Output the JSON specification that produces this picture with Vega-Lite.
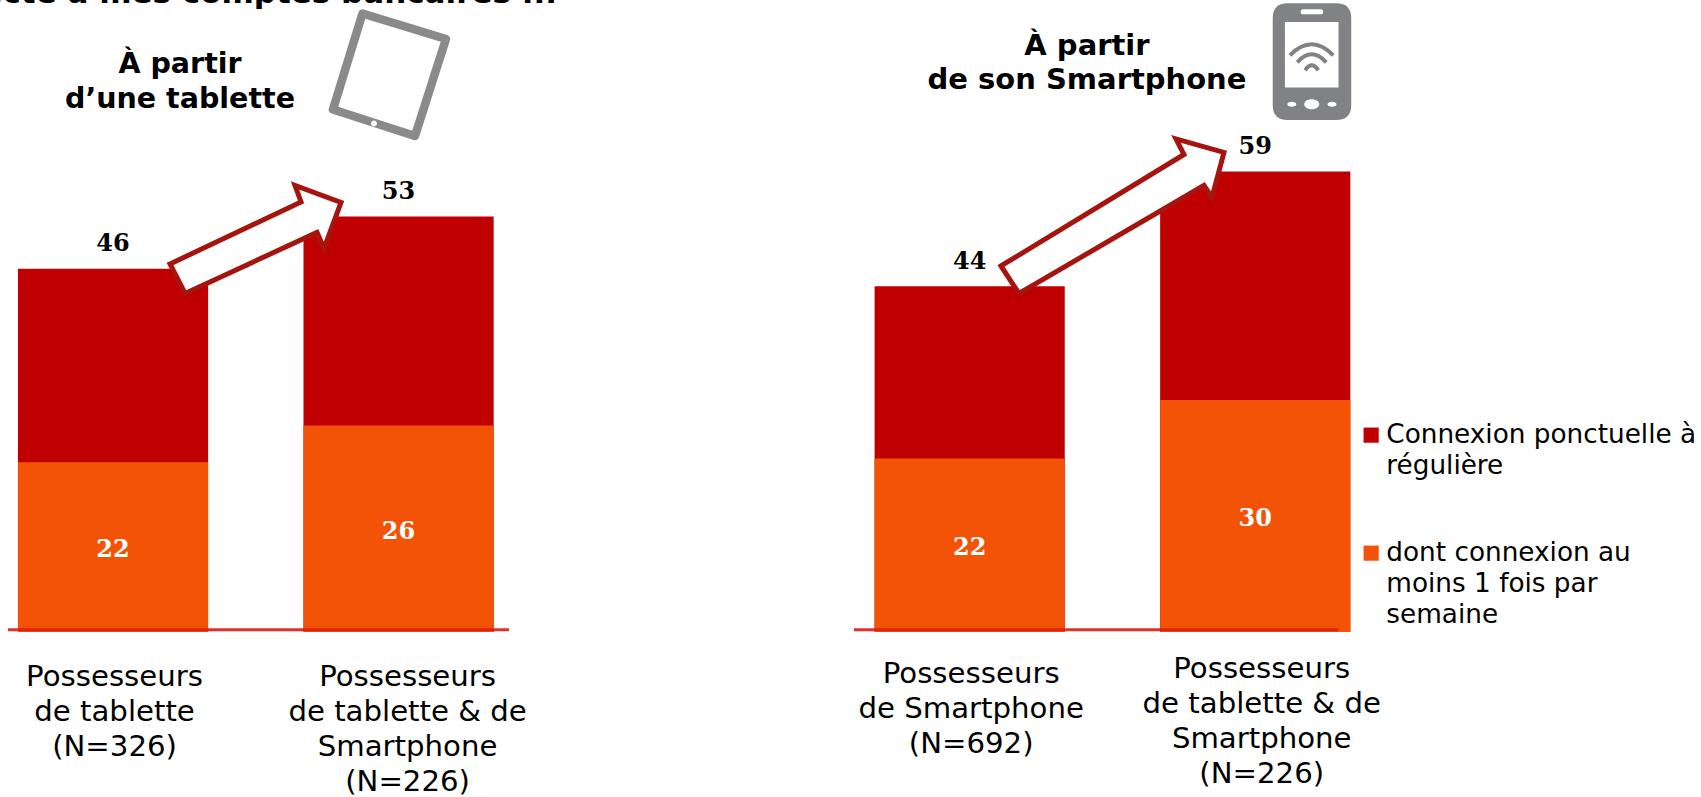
{
"$schema":"https://vega.github.io/schema/vega-lite/v6.json",
"width":1701,"height":632,
"autosize":{"type":"none"},
"padding":{"left":0,"top":0,"right":0,"bottom":165},
"background":"white",
"config":{"view":{"stroke":null},"font":"DejaVu Sans"},
"data":{"values":[
{"groupe":"Possesseurs|de tablette|(N=326)","segment":"Connexion ponctuelle à régulière","valeur":46.27},
{"groupe":"Possesseurs|de tablette & de|Smartphone|(N=226)","segment":"Connexion ponctuelle à régulière","valeur":52.93},
{"groupe":"Possesseurs|de Smartphone|(N=692)","segment":"Connexion ponctuelle à régulière","valeur":44.05},
{"groupe":"Possesseurs|de tablette & de|Smartphone|(N=226) ","segment":"Connexion ponctuelle à régulière","valeur":58.64},
{"groupe":"Possesseurs|de tablette|(N=326)","segment":"dont connexion au moins 1 fois par semaine","valeur":21.63},
{"groupe":"Possesseurs|de tablette & de|Smartphone|(N=226)","segment":"dont connexion au moins 1 fois par semaine","valeur":26.31},
{"groupe":"Possesseurs|de Smartphone|(N=692)","segment":"dont connexion au moins 1 fois par semaine","valeur":22.09},
{"groupe":"Possesseurs|de tablette & de|Smartphone|(N=226) ","segment":"dont connexion au moins 1 fois par semaine","valeur":29.55}
]},
"encoding":{
 "x":{"field":"groupe","type":"nominal","sort":null,
  "scale":{"domain":["Possesseurs|de tablette|(N=326)","Possesseurs|de tablette & de|Smartphone|(N=226)"," ","Possesseurs|de Smartphone|(N=692)","Possesseurs|de tablette & de|Smartphone|(N=226) "],"range":[-29.75,1398],"paddingInner":0.334,"paddingOuter":0.167},
  "axis":{"title":null,"domain":false,"ticks":false,"labelAngle":0,"labelFont":"DejaVu Sans","labelFontSize":29.2,"labelColor":"#000000","labelLineHeight":35,"labelLimit":500,"labelOverlap":false,"labelBound":false,"labelFlush":false,"labelBaseline":"top","labelExpr":"split(datum.label,'|')",
   "labelPadding":{"condition":[{"test":"indexof(datum.value,'(N=226) ')>=0","value":22},{"test":"indexof(datum.value,'692')>=0","value":27}],"value":30},
   "labelOffset":{"condition":[{"test":"indexof(datum.value,'(N=226) ')>=0","value":6.5},{"test":"indexof(datum.value,'(N=226)')>=0","value":9}],"value":1.5}}},
 "y":{"field":"valeur","type":"quantitative","stack":null,"scale":{"domain":[0,80.5],"nice":false,"zero":true},"axis":null}
},
"layer":[
 {"mark":{"type":"bar","stroke":null},
  "encoding":{"color":{"field":"segment","type":"nominal","scale":{"domain":["Connexion ponctuelle à régulière","dont connexion au moins 1 fois par semaine"],"range":["#C00000","#F35306"]},
   "legend":{"title":null,"orient":"none","legendX":1358,"legendY":422,"symbolType":"square","symbolSize":230,"symbolStrokeWidth":0,"labelFont":"DejaVu Sans","labelFontSize":26.3,"labelColor":"#000000","labelLimit":400,"labelOffset":2,"rowPadding":60,"padding":0,
   "encoding":{"labels":{"lineHeight":{"value":31}}},
   "labelExpr":"datum.label=='Connexion ponctuelle à régulière' ? ['Connexion ponctuelle à','régulière'] : ['dont connexion au','moins 1 fois par','semaine']"}}}},
 {"data":{"values":[{"groupe":"Possesseurs|de tablette|(N=326)","fin":"Possesseurs|de tablette & de|Smartphone|(N=226)","valeur":0}]},
  "mark":{"type":"rule","color":"#D81E14","opacity":0.9,"strokeWidth":3,"xOffset":-105,"x2Offset":110.4,"yOffset":-2.3},
  "encoding":{"x2":{"field":"fin"}}},
 {"data":{"values":[{"groupe":"Possesseurs|de Smartphone|(N=692)","fin":"Possesseurs|de tablette & de|Smartphone|(N=226) ","valeur":0}]},
  "mark":{"type":"rule","color":"#D81E14","opacity":0.9,"strokeWidth":3,"xOffset":-115.7,"x2Offset":83,"yOffset":-2.3},
  "encoding":{"x2":{"field":"fin"}}},
 {"transform":[{"filter":"datum.segment=='Connexion ponctuelle à régulière'"}],
  "mark":{"type":"text","font":"DejaVu Serif","fontWeight":"bold","fontSize":24,"color":"#000000","baseline":"middle","dy":-24.5},
  "encoding":{"text":{"field":"valeur","type":"quantitative","format":".0f"}}},
 {"transform":[{"filter":"datum.segment!='Connexion ponctuelle à régulière'"}],
  "mark":{"type":"text","font":"DejaVu Serif","fontWeight":"bold","fontSize":24,"color":"#FFFFFF","baseline":"middle","dy":3},
  "encoding":{"y":{"field":"valeur","type":"quantitative","stack":"zero","bandPosition":0.5},"text":{"field":"valeur","type":"quantitative","format":".0f"}}},
 {"data":{"values":[{"groupe":"Possesseurs|de tablette|(N=326)","valeur":46.27}]},
  "mark":{"type":"point","shape":"M57 -4.8 L188 -66.8 L182 -83.3 L228 -66.3 L211 -20.3 L204 -36.3 L72 24.7 Z","size":4,"filled":true,"fill":"#FFFFFF","stroke":"#A5140F","strokeWidth":5,"opacity":1,"strokeJoin":"miter"}},
 {"data":{"values":[{"groupe":"Possesseurs|de Smartphone|(N=692)","valeur":44.05}]},
  "mark":{"type":"point","shape":"M31.3 -20.2 L214.3 -131.7 L206.3 -147.2 L254.3 -133.7 L242.3 -88.7 L234.3 -100.7 L49.3 7.3 Z","size":4,"filled":true,"fill":"#FFFFFF","stroke":"#A5140F","strokeWidth":5,"opacity":1,"strokeJoin":"miter"}},
 {"data":{"values":[{"groupe":"Possesseurs|de tablette & de|Smartphone|(N=226)","valeur":52.93}]},
  "mark":{"type":"point","shape":"M-36.1 -203 L47.4 -177.5 L16.4 -80.5 L-65.6 -107 Z","size":4,"filled":true,"fill":"#FFFFFF","stroke":"#8A8A8A","strokeWidth":8.5,"strokeJoin":"round","opacity":1}},
 {"data":{"values":[{"groupe":"Possesseurs|de tablette & de|Smartphone|(N=226)","valeur":52.93}]},
  "mark":{"type":"point","shape":"M-21.6 -93 a3 3 0 1 0 -6 0 a3 3 0 1 0 6 0 Z","size":4,"filled":true,"fill":"#FFFFFF","stroke":null,"opacity":1}},
 {"data":{"values":[{"groupe":"Possesseurs|de tablette & de|Smartphone|(N=226) ","valeur":58.64}]},
  "mark":{"type":"point","shape":"M32.5 -168.3 H81 Q96 -168.3 96 -153.3 V-66.6 Q96 -51.6 81 -51.6 H32.5 Q17.5 -51.6 17.5 -66.6 V-153.3 Q17.5 -168.3 32.5 -168.3 Z","size":4,"filled":true,"fill":"#808285","stroke":null,"opacity":1}},
 {"data":{"values":[{"groupe":"Possesseurs|de tablette & de|Smartphone|(N=226) ","valeur":58.64}]},
  "mark":{"type":"point","shape":"M29.7 -149.6 H83.3 V-84 H29.7 Z M47.5 -162.3 H66 Q68 -162.3 68 -159.8 Q68 -157.3 66 -157.3 H47.5 Q45.4 -157.3 45.4 -159.8 Q45.4 -162.3 47.5 -162.3 Z M49 -67.3 a7.5 5 0 1 0 15 0 a7.5 5 0 1 0 -15 0 Z M32.1 -67.3 a4.5 2.5 0 1 0 9 0 a4.5 2.5 0 1 0 -9 0 Z M72.3 -67.3 a4.5 2.5 0 1 0 9 0 a4.5 2.5 0 1 0 -9 0 Z","size":4,"filled":true,"fill":"#FFFFFF","stroke":null,"opacity":1}},
 {"data":{"values":[{"groupe":"Possesseurs|de tablette & de|Smartphone|(N=226) ","valeur":58.64}]},
  "mark":{"type":"point","shape":"M34.7 -116.3 Q56.5 -138.3 78 -116.3 M42 -109.3 Q56.5 -125.3 71 -109.3 M50 -101.3 Q56.5 -111.3 63 -101.3","size":4,"filled":false,"fill":"transparent","stroke":"#808285","strokeWidth":4,"opacity":1}},
 {"data":{"values":[{"groupe":"Possesseurs|de tablette|(N=326)","valeur":71.2,"note":"À partir\nd’une tablette"}]},
  "mark":{"type":"text","font":"DejaVu Sans","fontWeight":"bold","fontSize":28.5,"color":"#000000","lineBreak":"\n","lineHeight":34.5,"align":"center","baseline":"alphabetic","dx":67},
  "encoding":{"text":{"field":"note"}}},
 {"data":{"values":[{"groupe":"Possesseurs|de Smartphone|(N=692)","valeur":73.5,"note":"À partir\nde son Smartphone"}]},
  "mark":{"type":"text","font":"DejaVu Sans","fontWeight":"bold","fontSize":29,"color":"#000000","lineBreak":"\n","lineHeight":34.5,"align":"center","baseline":"alphabetic","dx":117.3},
  "encoding":{"text":{"field":"note"}}},
 {"data":{"values":[{"groupe":"Possesseurs|de tablette|(N=326)","valeur":80.18,"note":"Je me connecte à mes comptes bancaires ..."}]},
  "mark":{"type":"text","font":"DejaVu Sans","fontWeight":"bold","fontSize":31,"color":"#000000","align":"right","baseline":"alphabetic","dx":444},
  "encoding":{"text":{"field":"note"}}}
]
}
